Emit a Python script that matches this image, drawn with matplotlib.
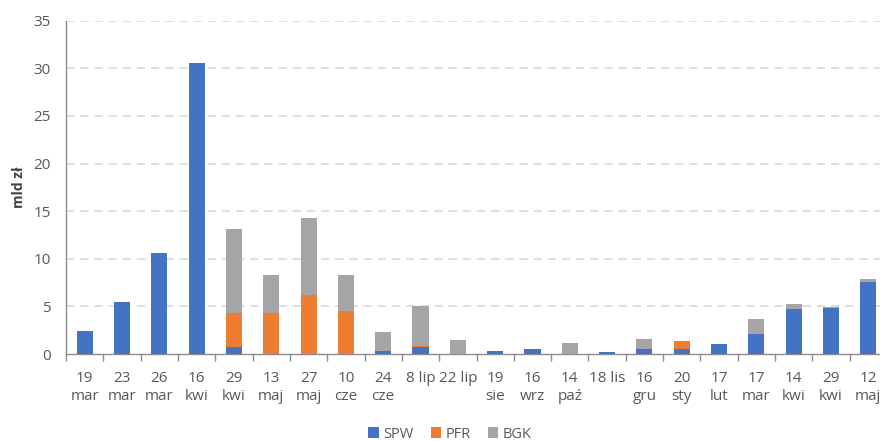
import matplotlib
matplotlib.use("Agg")
import matplotlib.pyplot as plt
import numpy as np

plt.rcParams['font.family'] = ['Open Sans', 'DejaVu Sans']

categories = ["19\nmar", "23\nmar", "26\nmar", "16\nkwi", "29\nkwi", "13\nmaj",
              "27\nmaj", "10\ncze", "24\ncze", "8 lip", "22 lip", "19\nsie",
              "16\nwrz", "14\npaź", "18 lis", "16\ngru", "20\nsty", "17\nlut",
              "17\nmar", "14\nkwi", "29\nkwi", "12\nmaj"]

spw = [2.4, 5.5, 10.6, 30.6, 0.7, 0.0, 0.0, 0.0, 0.3, 0.7, 0.0, 0.3,
       0.55, 0.0, 0.2, 0.5, 0.5, 1.0, 2.1, 4.7, 4.85, 7.6]
pfr = [0.0, 0.0, 0.0, 0.0, 3.6, 4.3, 6.2, 4.5, 0.0, 0.1, 0.0, 0.0,
       0.0, 0.0, 0.0, 0.0, 0.9, 0.0, 0.0, 0.0, 0.0, 0.0]
bgk = [0.0, 0.0, 0.0, 0.0, 8.8, 4.0, 8.1, 3.8, 2.0, 4.2, 1.5, 0.0,
       0.0, 1.2, 0.0, 1.1, 0.0, 0.0, 1.6, 0.6, 0.05, 0.3]

series_names = ["SPW", "PFR", "BGK"]
colors = ["#4472C4", "#ED7D31", "#A5A5A5"]

fig = plt.figure(figsize=(8.8, 4.41), dpi=100)
ax = fig.add_axes([66 / 880, 1 - 354 / 441, 821 / 880, (354 - 20.7) / 441])

x = np.arange(len(categories))
width = 0.43
spw_a = np.array(spw)
pfr_a = np.array(pfr)
bgk_a = np.array(bgk)
bars = []
bars.append(ax.bar(x, spw_a, width, color=colors[0], label=series_names[0], zorder=3))
bars.append(ax.bar(x, pfr_a, width, bottom=spw_a, color=colors[1], label=series_names[1], zorder=3))
bars.append(ax.bar(x, bgk_a, width, bottom=spw_a + pfr_a, color=colors[2], label=series_names[2], zorder=3))

ax.set_xlim(-0.5, len(categories) - 0.5)
ax.set_ylim(0, 35)
ax.set_yticks(np.arange(0, 36, 5))
ax.tick_params(axis='y', length=0, labelsize=11, labelcolor="#595959", pad=11)

ax.set_xticks(x)
ax.set_xticklabels(categories, fontsize=11, color="#595959", linespacing=1.3)
ax.tick_params(axis='x', which='major', length=0, pad=12)
ax.set_xticks(np.arange(-0.5, len(categories), 1), minor=True)
ax.tick_params(axis='x', which='minor', length=5, width=1, color="#8C8C8C", direction='out')

for y in range(5, 36, 5):
    ax.axhline(y, color="#D9D9D9", lw=1.2, linestyle=(0, (5, 3.5)), zorder=1)

for side in ["top", "right"]:
    ax.spines[side].set_visible(False)
ax.spines["left"].set_color("#8C8C8C")
ax.spines["bottom"].set_color("#8C8C8C")
ax.spines["left"].set_linewidth(1)
ax.spines["bottom"].set_linewidth(1)

ax.set_ylabel("mld zł", fontsize=10, fontweight='bold', color="#404040", labelpad=5)

leg = fig.legend(handles=bars, labels=series_names, loc='center', bbox_to_anchor=(450 / 880, 1 - 434 / 441),
                 ncol=3, frameon=False, fontsize=10.5, handlelength=0.7, handleheight=0.7,
                 handletextpad=0.3, columnspacing=1.2)
for t in leg.get_texts():
    t.set_color("#595959")

fig.savefig("out.png", dpi=100)
